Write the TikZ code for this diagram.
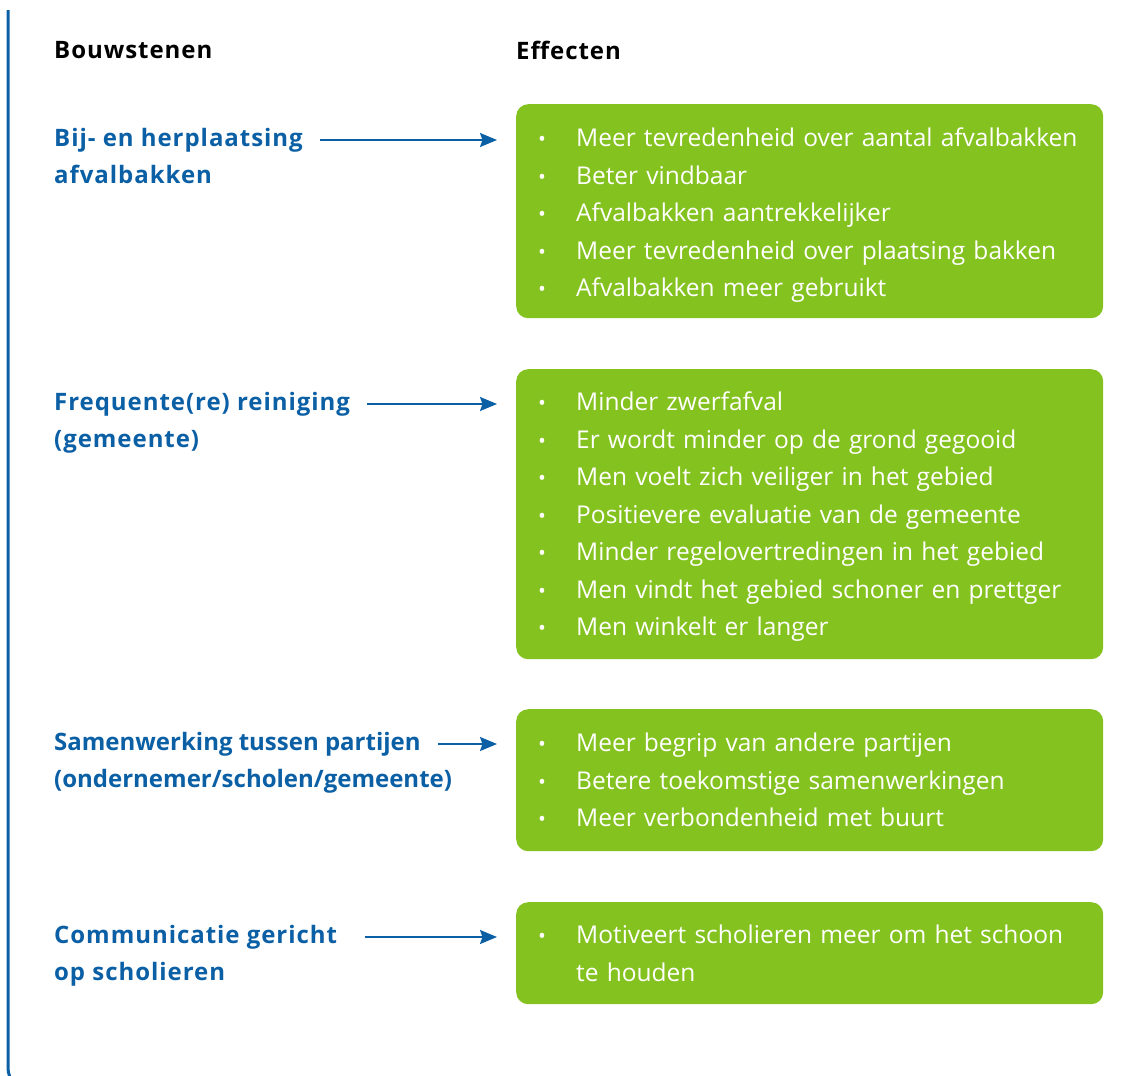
\documentclass[tikz,border=0pt]{standalone}
\usepackage{fontspec}
\setmainfont{Open Sans}
\newfontfamily\spacedbold[LetterSpace=4]{Open Sans Bold}
\usetikzlibrary{arrows.meta,positioning}
\definecolor{blockblue}{HTML}{0B5FA5}
\definecolor{effectgreen}{HTML}{84C21F}
\newcommand{\bul}{\makebox[36pt][l]{\hspace{-2pt}\raisebox{0pt}{\fontsize{21}{21}\selectfont •}}}
\tikzset{
  frameline/.style={line width=3pt,blockblue},
  header/.style={anchor=west,inner sep=0pt,font=\spacedbold\fontsize{24}{30}\selectfont},
  block/.style={anchor=west,inner sep=0pt,text=blockblue,text height=17pt,text depth=5pt,font=\bfseries\fontsize{24}{37.5}\selectfont},
  spacedblock/.style={block,font=\spacedbold\fontsize{24}{37.5}\selectfont},
  effectbox/.style={anchor=north west,fill=effectgreen,rounded corners=12pt,text=white,text width=539pt,inner xsep=24pt,inner ysep=0pt,align=left,font=\fontsize{24.5}{37.5}\selectfont},
  linkarrow/.style={-{Stealth[length=17pt,width=14pt,inset=2.5pt]},line width=2pt,blockblue,shorten <=17pt,shorten >=19pt}
}
\begin{document}
\begin{tikzpicture}[x=1pt,y=-1pt]
  \useasboundingbox (0,0) rectangle (1128,1076);
  \draw[frameline,rounded corners=22pt] (8,10) -- (8,1090) -- (60,1090);
  \node[header] (hblok) at (54,50) {Bouwstenen};
  \node[header] (heffect) at (516,50) {Effecten};

  \node[effectbox,minimum height=214pt,text height=27pt] (effect1) at (516,104) {\bul Meer tevredenheid over aantal afvalbakken\\ \bul Beter vindbaar\\ \bul Afvalbakken aantrekkelijker\\ \bul Meer tevredenheid over plaatsing bakken\\ \bul Afvalbakken meer gebruikt};
  \node[effectbox,minimum height=290pt,text height=24pt] (effect2) at (516,369) {\bul Minder zwerfafval\\ \bul Er wordt minder op de grond gegooid\\ \bul Men voelt zich veiliger in het gebied\\ \bul Positievere evaluatie van de gemeente\\ \bul Minder regelovertredingen in het gebied\\ \bul Men vindt het gebied schoner en prettger\\ \bul Men winkelt er langer};
  \node[effectbox,minimum height=142pt] (effect3) at (516,709) {\bul Meer begrip van andere partijen\\ \bul Betere toekomstige samenwerkingen\\ \bul Meer verbondenheid met buurt};
  \node[effectbox,minimum height=102pt] (effect4) at (516,902) {\bul Motiveert scholieren meer om het schoon\\ \hspace*{36pt}te houden};

  \node[spacedblock] (blok1) at (54,140) {Bij- en herplaatsing};
  \node[spacedblock] (blok1b) at (54,177) {afvalbakken};
  \node[spacedblock] (blok2) at (54,404) {Frequente(re) reiniging};
  \node[spacedblock] (blok2b) at (54,441) {(gemeente)};
  \node[block] (blok3) at (54,744) {Samenwerking tussen partijen};
  \node[block] (blok3b) at (54,781) {(ondernemer/scholen/gemeente)};
  \node[spacedblock] (blok4) at (54,937) {Communicatie gericht};
  \node[spacedblock] (blok4b) at (54,974) {op scholieren};

  \draw[linkarrow] (blok1.east) -- (effect1.west |- blok1.east);
  \draw[linkarrow] (blok2.east) -- (effect2.west |- blok2.east);
  \draw[linkarrow] (blok3.east) -- (effect3.west |- blok3.east);
  \draw[linkarrow,shorten <=28pt] (blok4.east) -- (effect4.west |- blok4.east);
\end{tikzpicture}
\end{document}
